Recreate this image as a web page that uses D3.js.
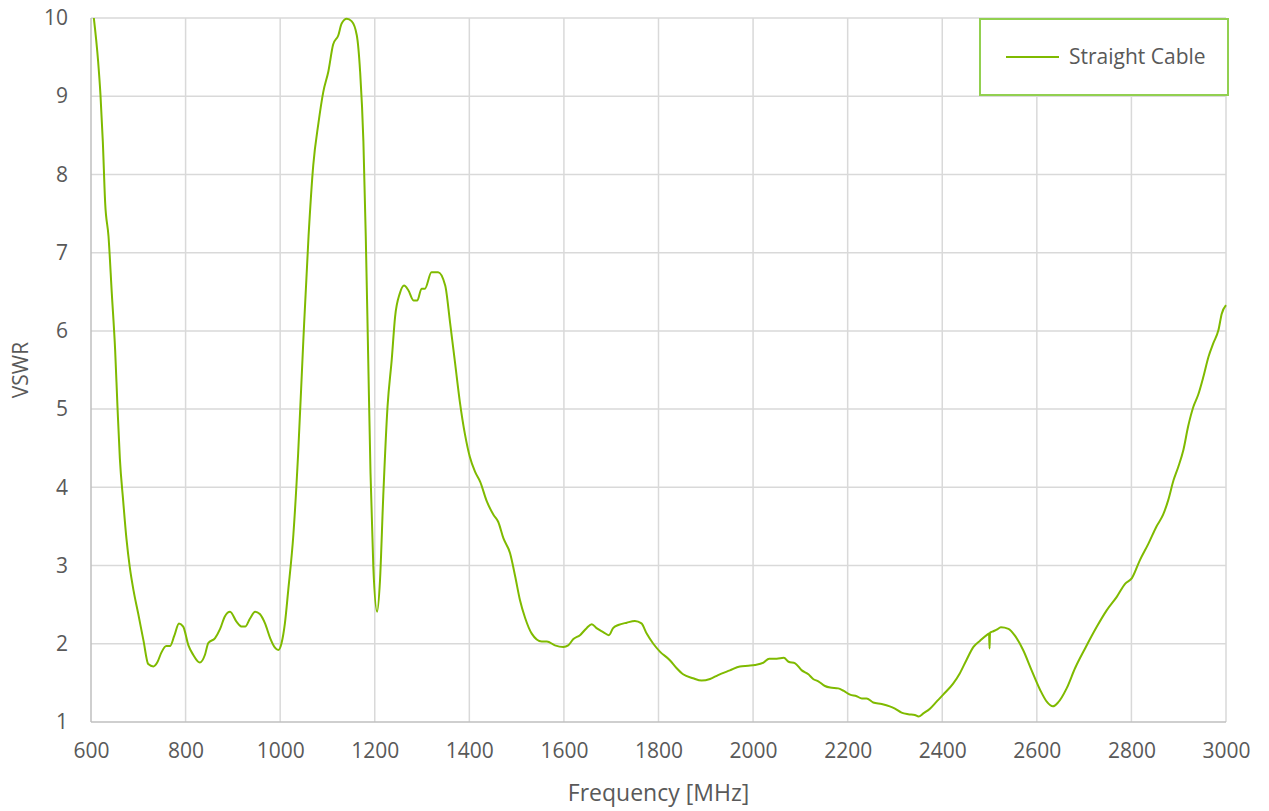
<!DOCTYPE html>
<html>
<head>
<meta charset="utf-8">
<script src="https://cdn.jsdelivr.net/npm/d3@7"></script>
<style>
  html, body { margin: 0; padding: 0; background: #ffffff; }
  svg text { font-family: "Open Sans", "Noto Sans", sans-serif; fill: #595959; }
</style>
</head>
<body>
<svg id="chart" width="1269" height="811"></svg>
<script>
const seriesName = "Straight Cable";
const xTicks = [600, 800, 1000, 1200, 1400, 1600, 1800, 2000, 2200, 2400, 2600, 2800, 3000];
const yTicks = [1, 2, 3, 4, 5, 6, 7, 8, 9, 10];
const xTitle = "Frequency [MHz]";
const yTitle = "VSWR";

const freq = [606,615,620,625,630,637,644,651,656,661,668,675,682,690,700,711,721,732,740,749,759,767,776,786,795,806,816,830,841,848,862,873,883,894,908,919,926,936,947,957,968,979,989,996,1003,1010,1017,1028,1038,1049,1060,1070,1081,1091,1102,1112,1123,1130,1141,1151,1162,1169,1176,1181,1186,1191,1197,1205,1211,1218,1227,1236,1243,1253,1262,1271,1282,1290,1299,1306,1320,1334,1349,1359,1370,1380,1391,1401,1412,1423,1437,1451,1461,1472,1486,1497,1507,1518,1532,1553,1564,1581,1599,1609,1620,1634,1648,1659,1669,1683,1695,1704,1715,1733,1750,1764,1775,1789,1803,1824,1838,1852,1873,1891,1909,1926,1951,1972,1990,2004,2022,2034,2050,2065,2075,2089,2103,2117,2127,2138,2152,2163,2180,2191,2205,2219,2230,2240,2254,2272,2289,2300,2314,2328,2342,2350,2360,2374,2388,2402,2423,2437,2451,2466,2480,2494,2499,2500,2501,2508,2515,2524,2540,2554,2571,2589,2607,2621,2634,2645,2663,2681,2702,2727,2748,2769,2787,2801,2818,2836,2853,2867,2878,2889,2899,2910,2920,2931,2941,2952,2963,2973,2984,2991,3000];
const vswr = [10.0,9.45,9.02,8.42,7.63,7.21,6.48,5.76,5.03,4.37,3.83,3.34,2.98,2.68,2.38,2.04,1.74,1.71,1.76,1.89,1.97,1.97,2.10,2.26,2.22,1.98,1.86,1.76,1.86,2.01,2.07,2.19,2.35,2.41,2.28,2.22,2.22,2.32,2.41,2.38,2.26,2.07,1.95,1.92,2.01,2.26,2.68,3.40,4.43,5.88,7.21,8.12,8.66,9.05,9.32,9.66,9.78,9.93,9.99,9.96,9.78,9.32,8.42,7.21,5.70,4.19,2.98,2.41,2.80,3.89,5.03,5.64,6.18,6.48,6.58,6.52,6.39,6.39,6.54,6.54,6.75,6.75,6.58,6.12,5.58,5.09,4.67,4.39,4.20,4.07,3.82,3.65,3.56,3.35,3.16,2.86,2.56,2.33,2.13,2.03,2.03,1.98,1.96,1.98,2.06,2.11,2.20,2.25,2.20,2.15,2.11,2.20,2.24,2.27,2.29,2.26,2.13,2.00,1.90,1.79,1.69,1.61,1.56,1.53,1.55,1.60,1.66,1.71,1.72,1.73,1.76,1.81,1.81,1.82,1.77,1.75,1.66,1.61,1.55,1.52,1.46,1.44,1.43,1.40,1.35,1.33,1.30,1.30,1.25,1.23,1.20,1.17,1.12,1.10,1.09,1.07,1.11,1.17,1.26,1.35,1.49,1.62,1.79,1.96,2.04,2.11,2.13,1.94,2.14,2.16,2.18,2.21,2.19,2.10,1.92,1.66,1.41,1.26,1.20,1.25,1.43,1.69,1.94,2.22,2.43,2.60,2.77,2.84,3.07,3.28,3.50,3.65,3.84,4.09,4.26,4.48,4.78,5.03,5.18,5.41,5.67,5.84,6.01,6.22,6.33];

const margin = { left: 91, right: 1269 - 1226, top: 18, bottom: 811 - 722 };
const W = 1269, H = 811;
const svg = d3.select("#chart");

const x = d3.scaleLinear().domain([600, 3000]).range([margin.left, W - margin.right]);
const y = d3.scaleLinear().domain([1, 10]).range([H - margin.bottom, margin.top]);

// gridlines
const grid = svg.append("g");
grid.selectAll("line.v").data(xTicks.slice(1)).enter().append("line")
  .attr("x1", d => x(d)).attr("x2", d => x(d))
  .attr("y1", y(10)).attr("y2", y(1))
  .attr("stroke", "#d9d9d9").attr("stroke-width", 1.5);
grid.selectAll("line.h").data(yTicks.slice(1)).enter().append("line")
  .attr("x1", x(600)).attr("x2", x(3000))
  .attr("y1", d => y(d)).attr("y2", d => y(d))
  .attr("stroke", "#d9d9d9").attr("stroke-width", 1.5);

// axes lines
svg.append("line").attr("x1", x(600)).attr("x2", x(600)).attr("y1", y(10)).attr("y2", y(1))
  .attr("stroke", "#bfbfbf").attr("stroke-width", 1.5);
svg.append("line").attr("x1", x(600)).attr("x2", x(3000)).attr("y1", y(1)).attr("y2", y(1))
  .attr("stroke", "#bfbfbf").attr("stroke-width", 1.5);

// axes labels via d3 axes
const xAxis = d3.axisBottom(x).tickValues(xTicks).tickFormat(d3.format("d")).tickSize(0).tickPadding(21);
const gx = svg.append("g").attr("transform", `translate(0,${y(1)})`).call(xAxis);
gx.select(".domain").remove();
gx.selectAll("text").style("font-size", "21px").style("fill", "#595959")
  .style("font-family", '"Open Sans", sans-serif');

const yAxis = d3.axisLeft(y).tickValues(yTicks).tickFormat(d3.format("d")).tickSize(0).tickPadding(23);
const gy = svg.append("g").attr("transform", `translate(${x(600)},0)`).call(yAxis);
gy.select(".domain").remove();
gy.selectAll("text").style("font-size", "21px").style("fill", "#595959")
  .style("font-family", '"Open Sans", sans-serif');

// axis titles
svg.append("text").attr("x", (x(600) + x(3000)) / 2).attr("y", 801)
  .attr("text-anchor", "middle").style("font-size", "23px").text(xTitle);
svg.append("text").attr("transform", `translate(28,${(y(1) + y(10)) / 2}) rotate(-90)`)
  .attr("text-anchor", "middle").style("font-size", "21px").text(yTitle);

// line
const data = freq.map((f, i) => ({ f, v: vswr[i] }));
svg.append("clipPath").attr("id", "clip").append("rect")
  .attr("x", x(600)).attr("y", y(10) - 1).attr("width", x(3000) - x(600) + 2).attr("height", y(1) - y(10) + 2);
const lineColor = "#7fba00";
svg.append("path").datum(data)
  .attr("clip-path", "url(#clip)")
  .attr("fill", "none").attr("stroke", lineColor).attr("stroke-width", 2)
  .attr("stroke-linejoin", "round")
  .attr("d", d3.line().x(d => x(d.f)).y(d => y(d.v)).curve(d3.curveMonotoneX));

// legend
const lg = svg.append("g");
lg.append("rect").attr("x", 980).attr("y", 19).attr("width", 248).attr("height", 76)
  .attr("fill", "#ffffff").attr("stroke", "#92d050").attr("stroke-width", 2);
lg.append("line").attr("x1", 1006).attr("x2", 1059).attr("y1", 57).attr("y2", 57)
  .attr("stroke", lineColor).attr("stroke-width", 2);
lg.append("text").attr("x", 1069).attr("y", 57).attr("dy", "0.35em")
  .style("font-size", "21px").text(seriesName);
</script>
</body>
</html>
